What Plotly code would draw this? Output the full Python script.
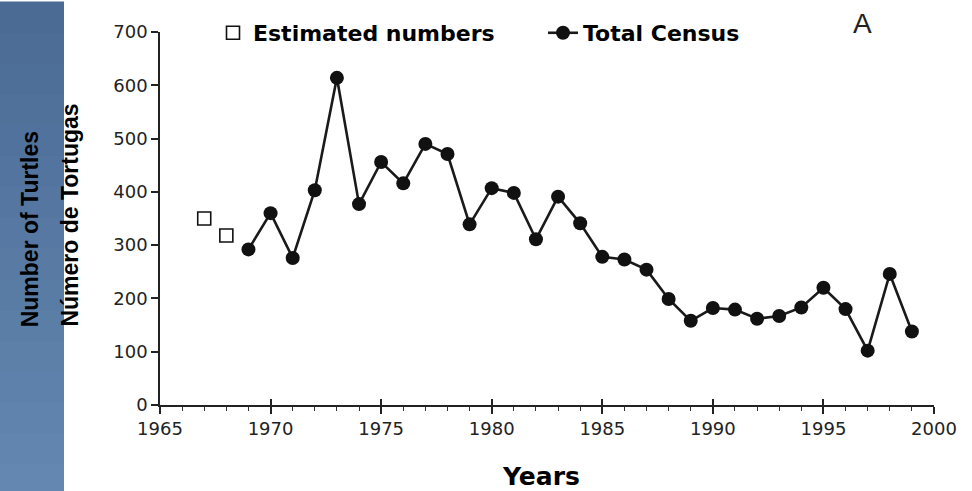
import plotly.graph_objects as go

# ---- data ----
est_years = [1967, 1968]
est_values = [350, 318]

census_years = list(range(1969, 2000))
census_values = [292, 360, 276, 403, 614, 377, 456, 416, 490, 471, 339, 407, 398, 311,
                 391, 341, 278, 273, 254, 199, 158, 182, 179, 162, 167, 183, 220, 180,
                 102, 246, 138]

x_range = [1965, 2000]
y_range = [0, 700]
y_ticks = [0, 100, 200, 300, 400, 500, 600, 700]
x_ticks = [1965, 1970, 1975, 1980, 1985, 1990, 1995, 2000]

W, H = 972, 491
ML, MR, MT, MB = 160, 38, 25, 86
PW, PH = W - ML - MR, H - MT - MB


def px_x(p):
    return (p - ML) / PW


def px_y(p):
    return (H - MB - p) / PH


fig = go.Figure()

fig.add_trace(go.Scatter(
    x=est_years, y=est_values, name="Estimated numbers", mode="markers",
    xaxis="x2",
    marker=dict(symbol="square-open", size=13, color="#111111", line=dict(width=1.6, color="#111111")),
))
fig.add_trace(go.Scatter(
    x=census_years, y=census_values, name="Total Census", mode="lines+markers",
    line=dict(color="#1a1a1a", width=2.6),
    marker=dict(symbol="circle", size=14, color="#111111"),
))

# blue side panel (vertical gradient with bands)
top = (75, 107, 148)
bot = (99, 135, 177)
n = 16
y0p, y1p = px_y(H + 6), px_y(-6)
shapes = []
for i in range(n):
    t = i / (n - 1)
    c = tuple(round(top[k] + (bot[k] - top[k]) * t) for k in range(3))
    ya = y1p - (y1p - y0p) * i / n
    yb = y1p - (y1p - y0p) * (i + 1) / n - 0.01
    shapes.append(dict(type="rect", xref="paper", yref="paper",
                       x0=px_x(-6), x1=px_x(64), y0=max(yb, y0p), y1=ya,
                       fillcolor="rgb(%d,%d,%d)" % c, line=dict(width=0), layer="below"))

tick_font = dict(family="DejaVu Sans", size=18, color="#222222")
title_font = dict(family="Liberation Sans, Arial", size=23, color="#000000", weight="bold")

annotations = [
    dict(text="Number of Turtles", xref="paper", yref="paper", x=px_x(30), y=px_y(226),
         textangle=-90, showarrow=False, font=title_font, xanchor="center", yanchor="middle"),
    dict(text="Número de Tortugas", xref="paper", yref="paper", x=px_x(70), y=px_y(212),
         textangle=-90, showarrow=False, font=title_font, xanchor="center", yanchor="middle"),
    dict(text="Years", xref="paper", yref="paper", x=px_x(541), y=px_y(478),
         showarrow=False, font=dict(family="DejaVu Sans", size=25, color="#000000", weight="bold"),
         xanchor="center", yanchor="middle"),
    dict(text="A", xref="paper", yref="paper", x=px_x(862), y=px_y(16),
         showarrow=False, font=dict(family="Liberation Sans, Arial", size=28, color="#222222"),
         xanchor="center", yanchor="middle"),
]

fig.update_layout(
    width=W, height=H,
    margin=dict(l=ML, r=MR, t=MT, b=MB),
    paper_bgcolor="white", plot_bgcolor="white",
    shapes=shapes,
    annotations=annotations,
    showlegend=True,
    legend=dict(orientation="h", x=px_x(213), xanchor="left", y=px_y(26), yanchor="middle",
                entrywidth=285, entrywidthmode="pixels",
                font=dict(family="DejaVu Sans", size=22, color="#000000", weight="bold"),
                bgcolor="rgba(0,0,0,0)", itemclick=False),
    xaxis=dict(range=x_range, tickvals=x_ticks, ticks="outside", ticklen=7, tickwidth=1.5,
               tickcolor="#222", showline=True, linecolor="#222", linewidth=1.5,
               showgrid=False, zeroline=False, tickfont=tick_font,
               minor=dict(dtick=1, tick0=1965, ticks="outside", ticklen=4, tickwidth=1.2, tickcolor="#333")),
    xaxis2=dict(range=x_range, overlaying="x", anchor="y", side="bottom", tickvals=x_ticks,
                ticks="inside", ticklen=6, tickwidth=1.5, tickcolor="#222", showticklabels=False,
                showline=False, showgrid=False, zeroline=False),
    yaxis=dict(range=y_range, tickvals=y_ticks, ticks="outside", ticklen=7, tickwidth=1.5,
               tickcolor="#222", showline=True, linecolor="#222", linewidth=1.5,
               showgrid=False, zeroline=False, tickfont=tick_font),
)

fig.write_html("out.html",
               config={"displayModeBar": False},
               post_script="document.body.style.margin='0';document.body.style.padding='0';"
                           "document.body.style.overflow='hidden';"
                           "document.documentElement.style.overflow='hidden';")
